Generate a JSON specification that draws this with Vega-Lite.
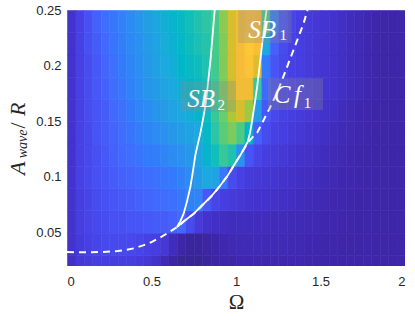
{
  "$schema": "https://vega.github.io/schema/vega-lite/v6.json",
  "width": 338,
  "height": 256,
  "autosize": {"type": "none"},
  "padding": {"left": 67, "top": 10, "right": 10, "bottom": 55},
  "background": "white",
  "config": {"view": {"stroke": null}},
  "datasets": {
    "grid": [
      {"x":0,"y":0.01,"v":0.04},{"x":0.05,"y":0.01,"v":0.07},{"x":0.1,"y":0.01,"v":0.08},{"x":0.15,"y":0.01,"v":0.09},{"x":0.2,"y":0.01,"v":0.09},{"x":0.25,"y":0.01,"v":0.09},{"x":0.3,"y":0.01,"v":0.09},{"x":0.35,"y":0.01,"v":0.09},{"x":0.4,"y":0.01,"v":0.08},{"x":0.45,"y":0.01,"v":0.07},
      {"x":0.5,"y":0.01,"v":0.05},{"x":0.55,"y":0.01,"v":0.02},{"x":0.6,"y":0.01,"v":-0.01},{"x":0.65,"y":0.01,"v":-0.03},{"x":0.7,"y":0.01,"v":-0.03},{"x":0.75,"y":0.01,"v":-0.03},{"x":0.8,"y":0.01,"v":-0.02},{"x":0.85,"y":0.01,"v":-0.01},{"x":0.9,"y":0.01,"v":0},{"x":0.95,"y":0.01,"v":0},
      {"x":1,"y":0.01,"v":0.01},{"x":1.05,"y":0.01,"v":0.01},{"x":1.1,"y":0.01,"v":0.01},{"x":1.15,"y":0.01,"v":0.01},{"x":1.2,"y":0.01,"v":0.01},{"x":1.25,"y":0.01,"v":0.01},{"x":1.3,"y":0.01,"v":0.01},{"x":1.35,"y":0.01,"v":0.01},{"x":1.4,"y":0.01,"v":0.005},{"x":1.45,"y":0.01,"v":0.005},
      {"x":1.5,"y":0.01,"v":0},{"x":1.55,"y":0.01,"v":0},{"x":1.6,"y":0.01,"v":0},{"x":1.65,"y":0.01,"v":0},{"x":1.7,"y":0.01,"v":0},{"x":1.75,"y":0.01,"v":0},{"x":1.8,"y":0.01,"v":0},{"x":1.85,"y":0.01,"v":0},{"x":1.9,"y":0.01,"v":0},{"x":1.95,"y":0.01,"v":0},

      {"x":0,"y":0.03,"v":0.05},{"x":0.05,"y":0.03,"v":0.08},{"x":0.1,"y":0.03,"v":0.1},{"x":0.15,"y":0.03,"v":0.11},{"x":0.2,"y":0.03,"v":0.12},{"x":0.25,"y":0.03,"v":0.12},{"x":0.3,"y":0.03,"v":0.12},{"x":0.35,"y":0.03,"v":0.12},{"x":0.4,"y":0.03,"v":0.11},{"x":0.45,"y":0.03,"v":0.1},
      {"x":0.5,"y":0.03,"v":0.09},{"x":0.55,"y":0.03,"v":0.07},{"x":0.6,"y":0.03,"v":0.03},{"x":0.65,"y":0.03,"v":0},{"x":0.7,"y":0.03,"v":-0.02},{"x":0.75,"y":0.03,"v":-0.02},{"x":0.8,"y":0.03,"v":-0.01},{"x":0.85,"y":0.03,"v":0},{"x":0.9,"y":0.03,"v":0.01},{"x":0.95,"y":0.03,"v":0.015},
      {"x":1,"y":0.03,"v":0.02},{"x":1.05,"y":0.03,"v":0.02},{"x":1.1,"y":0.03,"v":0.02},{"x":1.15,"y":0.03,"v":0.02},{"x":1.2,"y":0.03,"v":0.02},{"x":1.25,"y":0.03,"v":0.02},{"x":1.3,"y":0.03,"v":0.015},{"x":1.35,"y":0.03,"v":0.015},{"x":1.4,"y":0.03,"v":0.01},{"x":1.45,"y":0.03,"v":0.01},
      {"x":1.5,"y":0.03,"v":0.005},{"x":1.55,"y":0.03,"v":0.005},{"x":1.6,"y":0.03,"v":0},{"x":1.65,"y":0.03,"v":0},{"x":1.7,"y":0.03,"v":0},{"x":1.75,"y":0.03,"v":0},{"x":1.8,"y":0.03,"v":0},{"x":1.85,"y":0.03,"v":0},{"x":1.9,"y":0.03,"v":0},{"x":1.95,"y":0.03,"v":0},

      {"x":0,"y":0.05,"v":0.05},{"x":0.05,"y":0.05,"v":0.09},{"x":0.1,"y":0.05,"v":0.11},{"x":0.15,"y":0.05,"v":0.12},{"x":0.2,"y":0.05,"v":0.13},{"x":0.25,"y":0.05,"v":0.14},{"x":0.3,"y":0.05,"v":0.14},{"x":0.35,"y":0.05,"v":0.15},{"x":0.4,"y":0.05,"v":0.15},{"x":0.45,"y":0.05,"v":0.16},
      {"x":0.5,"y":0.05,"v":0.17},{"x":0.55,"y":0.05,"v":0.17},{"x":0.6,"y":0.05,"v":0.18},{"x":0.65,"y":0.05,"v":0.2},{"x":0.7,"y":0.05,"v":0.13},{"x":0.75,"y":0.05,"v":0.08},{"x":0.8,"y":0.05,"v":0.05},{"x":0.85,"y":0.05,"v":0.04},{"x":0.9,"y":0.05,"v":0.035},{"x":0.95,"y":0.05,"v":0.03},
      {"x":1,"y":0.05,"v":0.03},{"x":1.05,"y":0.05,"v":0.03},{"x":1.1,"y":0.05,"v":0.03},{"x":1.15,"y":0.05,"v":0.03},{"x":1.2,"y":0.05,"v":0.025},{"x":1.25,"y":0.05,"v":0.025},{"x":1.3,"y":0.05,"v":0.02},{"x":1.35,"y":0.05,"v":0.02},{"x":1.4,"y":0.05,"v":0.015},{"x":1.45,"y":0.05,"v":0.015},
      {"x":1.5,"y":0.05,"v":0.01},{"x":1.55,"y":0.05,"v":0.01},{"x":1.6,"y":0.05,"v":0.005},{"x":1.65,"y":0.05,"v":0.005},{"x":1.7,"y":0.05,"v":0},{"x":1.75,"y":0.05,"v":0},{"x":1.8,"y":0.05,"v":0},{"x":1.85,"y":0.05,"v":0},{"x":1.9,"y":0.05,"v":0},{"x":1.95,"y":0.05,"v":0},

      {"x":0,"y":0.07,"v":0.05},{"x":0.05,"y":0.07,"v":0.09},{"x":0.1,"y":0.07,"v":0.11},{"x":0.15,"y":0.07,"v":0.13},{"x":0.2,"y":0.07,"v":0.14},{"x":0.25,"y":0.07,"v":0.15},{"x":0.3,"y":0.07,"v":0.16},{"x":0.35,"y":0.07,"v":0.17},{"x":0.4,"y":0.07,"v":0.18},{"x":0.45,"y":0.07,"v":0.19},
      {"x":0.5,"y":0.07,"v":0.2},{"x":0.55,"y":0.07,"v":0.21},{"x":0.6,"y":0.07,"v":0.22},{"x":0.65,"y":0.07,"v":0.24},{"x":0.7,"y":0.07,"v":0.27},{"x":0.75,"y":0.07,"v":0.28},{"x":0.8,"y":0.07,"v":0.16},{"x":0.85,"y":0.07,"v":0.11},{"x":0.9,"y":0.07,"v":0.09},{"x":0.95,"y":0.07,"v":0.08},
      {"x":1,"y":0.07,"v":0.07},{"x":1.05,"y":0.07,"v":0.06},{"x":1.1,"y":0.07,"v":0.05},{"x":1.15,"y":0.07,"v":0.05},{"x":1.2,"y":0.07,"v":0.045},{"x":1.25,"y":0.07,"v":0.04},{"x":1.3,"y":0.07,"v":0.035},{"x":1.35,"y":0.07,"v":0.03},{"x":1.4,"y":0.07,"v":0.025},{"x":1.45,"y":0.07,"v":0.02},
      {"x":1.5,"y":0.07,"v":0.015},{"x":1.55,"y":0.07,"v":0.01},{"x":1.6,"y":0.07,"v":0.01},{"x":1.65,"y":0.07,"v":0.005},{"x":1.7,"y":0.07,"v":0},{"x":1.75,"y":0.07,"v":0},{"x":1.8,"y":0.07,"v":0},{"x":1.85,"y":0.07,"v":0},{"x":1.9,"y":0.07,"v":0},{"x":1.95,"y":0.07,"v":0},

      {"x":0,"y":0.09,"v":0.05},{"x":0.05,"y":0.09,"v":0.1},{"x":0.1,"y":0.09,"v":0.12},{"x":0.15,"y":0.09,"v":0.14},{"x":0.2,"y":0.09,"v":0.15},{"x":0.25,"y":0.09,"v":0.17},{"x":0.3,"y":0.09,"v":0.18},{"x":0.35,"y":0.09,"v":0.19},{"x":0.4,"y":0.09,"v":0.2},{"x":0.45,"y":0.09,"v":0.21},
      {"x":0.5,"y":0.09,"v":0.22},{"x":0.55,"y":0.09,"v":0.24},{"x":0.6,"y":0.09,"v":0.25},{"x":0.65,"y":0.09,"v":0.27},{"x":0.7,"y":0.09,"v":0.3},{"x":0.75,"y":0.09,"v":0.35},{"x":0.8,"y":0.09,"v":0.4},{"x":0.85,"y":0.09,"v":0.38},{"x":0.9,"y":0.09,"v":0.24},{"x":0.95,"y":0.09,"v":0.13},
      {"x":1,"y":0.09,"v":0.1},{"x":1.05,"y":0.09,"v":0.08},{"x":1.1,"y":0.09,"v":0.07},{"x":1.15,"y":0.09,"v":0.065},{"x":1.2,"y":0.09,"v":0.06},{"x":1.25,"y":0.09,"v":0.05},{"x":1.3,"y":0.09,"v":0.045},{"x":1.35,"y":0.09,"v":0.04},{"x":1.4,"y":0.09,"v":0.035},{"x":1.45,"y":0.09,"v":0.03},
      {"x":1.5,"y":0.09,"v":0.02},{"x":1.55,"y":0.09,"v":0.015},{"x":1.6,"y":0.09,"v":0.01},{"x":1.65,"y":0.09,"v":0.01},{"x":1.7,"y":0.09,"v":0.005},{"x":1.75,"y":0.09,"v":0},{"x":1.8,"y":0.09,"v":0},{"x":1.85,"y":0.09,"v":0},{"x":1.9,"y":0.09,"v":0},{"x":1.95,"y":0.09,"v":0},

      {"x":0,"y":0.11,"v":0.05},{"x":0.05,"y":0.11,"v":0.1},{"x":0.1,"y":0.11,"v":0.12},{"x":0.15,"y":0.11,"v":0.14},{"x":0.2,"y":0.11,"v":0.16},{"x":0.25,"y":0.11,"v":0.18},{"x":0.3,"y":0.11,"v":0.2},{"x":0.35,"y":0.11,"v":0.21},{"x":0.4,"y":0.11,"v":0.23},{"x":0.45,"y":0.11,"v":0.25},
      {"x":0.5,"y":0.11,"v":0.26},{"x":0.55,"y":0.11,"v":0.28},{"x":0.6,"y":0.11,"v":0.3},{"x":0.65,"y":0.11,"v":0.32},{"x":0.7,"y":0.11,"v":0.34},{"x":0.75,"y":0.11,"v":0.38},{"x":0.8,"y":0.11,"v":0.44},{"x":0.85,"y":0.11,"v":0.5},{"x":0.9,"y":0.11,"v":0.56},{"x":0.95,"y":0.11,"v":0.52},
      {"x":1,"y":0.11,"v":0.32},{"x":1.05,"y":0.11,"v":0.15},{"x":1.1,"y":0.11,"v":0.11},{"x":1.15,"y":0.11,"v":0.09},{"x":1.2,"y":0.11,"v":0.08},{"x":1.25,"y":0.11,"v":0.07},{"x":1.3,"y":0.11,"v":0.06},{"x":1.35,"y":0.11,"v":0.05},{"x":1.4,"y":0.11,"v":0.045},{"x":1.45,"y":0.11,"v":0.04},
      {"x":1.5,"y":0.11,"v":0.03},{"x":1.55,"y":0.11,"v":0.02},{"x":1.6,"y":0.11,"v":0.015},{"x":1.65,"y":0.11,"v":0.01},{"x":1.7,"y":0.11,"v":0.005},{"x":1.75,"y":0.11,"v":0},{"x":1.8,"y":0.11,"v":0},{"x":1.85,"y":0.11,"v":0},{"x":1.9,"y":0.11,"v":0},{"x":1.95,"y":0.11,"v":0},

      {"x":0,"y":0.13,"v":0.05},{"x":0.05,"y":0.13,"v":0.1},{"x":0.1,"y":0.13,"v":0.12},{"x":0.15,"y":0.13,"v":0.15},{"x":0.2,"y":0.13,"v":0.17},{"x":0.25,"y":0.13,"v":0.19},{"x":0.3,"y":0.13,"v":0.21},{"x":0.35,"y":0.13,"v":0.23},{"x":0.4,"y":0.13,"v":0.26},{"x":0.45,"y":0.13,"v":0.28},
      {"x":0.5,"y":0.13,"v":0.3},{"x":0.55,"y":0.13,"v":0.32},{"x":0.6,"y":0.13,"v":0.34},{"x":0.65,"y":0.13,"v":0.36},{"x":0.7,"y":0.13,"v":0.38},{"x":0.75,"y":0.13,"v":0.4},{"x":0.8,"y":0.13,"v":0.46},{"x":0.85,"y":0.13,"v":0.54},{"x":0.9,"y":0.13,"v":0.62},{"x":0.95,"y":0.13,"v":0.66},
      {"x":1,"y":0.13,"v":0.6},{"x":1.05,"y":0.13,"v":0.45},{"x":1.1,"y":0.13,"v":0.18},{"x":1.15,"y":0.13,"v":0.13},{"x":1.2,"y":0.13,"v":0.1},{"x":1.25,"y":0.13,"v":0.09},{"x":1.3,"y":0.13,"v":0.08},{"x":1.35,"y":0.13,"v":0.07},{"x":1.4,"y":0.13,"v":0.06},{"x":1.45,"y":0.13,"v":0.05},
      {"x":1.5,"y":0.13,"v":0.04},{"x":1.55,"y":0.13,"v":0.03},{"x":1.6,"y":0.13,"v":0.02},{"x":1.65,"y":0.13,"v":0.015},{"x":1.7,"y":0.13,"v":0.01},{"x":1.75,"y":0.13,"v":0.005},{"x":1.8,"y":0.13,"v":0},{"x":1.85,"y":0.13,"v":0},{"x":1.9,"y":0.13,"v":0},{"x":1.95,"y":0.13,"v":0},

      {"x":0,"y":0.15,"v":0.05},{"x":0.05,"y":0.15,"v":0.1},{"x":0.1,"y":0.15,"v":0.13},{"x":0.15,"y":0.15,"v":0.15},{"x":0.2,"y":0.15,"v":0.17},{"x":0.25,"y":0.15,"v":0.2},{"x":0.3,"y":0.15,"v":0.22},{"x":0.35,"y":0.15,"v":0.25},{"x":0.4,"y":0.15,"v":0.28},{"x":0.45,"y":0.15,"v":0.3},
      {"x":0.5,"y":0.15,"v":0.33},{"x":0.55,"y":0.15,"v":0.35},{"x":0.6,"y":0.15,"v":0.38},{"x":0.65,"y":0.15,"v":0.4},{"x":0.7,"y":0.15,"v":0.42},{"x":0.75,"y":0.15,"v":0.44},{"x":0.8,"y":0.15,"v":0.48},{"x":0.85,"y":0.15,"v":0.56},{"x":0.9,"y":0.15,"v":0.64},{"x":0.95,"y":0.15,"v":0.72},
      {"x":1,"y":0.15,"v":0.77},{"x":1.05,"y":0.15,"v":0.7},{"x":1.1,"y":0.15,"v":0.35},{"x":1.15,"y":0.15,"v":0.16},{"x":1.2,"y":0.15,"v":0.12},{"x":1.25,"y":0.15,"v":0.1},{"x":1.3,"y":0.15,"v":0.09},{"x":1.35,"y":0.15,"v":0.08},{"x":1.4,"y":0.15,"v":0.07},{"x":1.45,"y":0.15,"v":0.06},
      {"x":1.5,"y":0.15,"v":0.05},{"x":1.55,"y":0.15,"v":0.04},{"x":1.6,"y":0.15,"v":0.03},{"x":1.65,"y":0.15,"v":0.02},{"x":1.7,"y":0.15,"v":0.01},{"x":1.75,"y":0.15,"v":0.005},{"x":1.8,"y":0.15,"v":0},{"x":1.85,"y":0.15,"v":0},{"x":1.9,"y":0.15,"v":0},{"x":1.95,"y":0.15,"v":0},

      {"x":0,"y":0.17,"v":0.05},{"x":0.05,"y":0.17,"v":0.1},{"x":0.1,"y":0.17,"v":0.13},{"x":0.15,"y":0.17,"v":0.16},{"x":0.2,"y":0.17,"v":0.18},{"x":0.25,"y":0.17,"v":0.21},{"x":0.3,"y":0.17,"v":0.24},{"x":0.35,"y":0.17,"v":0.27},{"x":0.4,"y":0.17,"v":0.3},{"x":0.45,"y":0.17,"v":0.33},
      {"x":0.5,"y":0.17,"v":0.35},{"x":0.55,"y":0.17,"v":0.38},{"x":0.6,"y":0.17,"v":0.4},{"x":0.65,"y":0.17,"v":0.43},{"x":0.7,"y":0.17,"v":0.45},{"x":0.75,"y":0.17,"v":0.47},{"x":0.8,"y":0.17,"v":0.5},{"x":0.85,"y":0.17,"v":0.57},{"x":0.9,"y":0.17,"v":0.66},{"x":0.95,"y":0.17,"v":0.76},
      {"x":1,"y":0.17,"v":0.82},{"x":1.05,"y":0.17,"v":0.82},{"x":1.1,"y":0.17,"v":0.55},{"x":1.15,"y":0.17,"v":0.2},{"x":1.2,"y":0.17,"v":0.14},{"x":1.25,"y":0.17,"v":0.11},{"x":1.3,"y":0.17,"v":0.1},{"x":1.35,"y":0.17,"v":0.09},{"x":1.4,"y":0.17,"v":0.08},{"x":1.45,"y":0.17,"v":0.07},
      {"x":1.5,"y":0.17,"v":0.06},{"x":1.55,"y":0.17,"v":0.05},{"x":1.6,"y":0.17,"v":0.04},{"x":1.65,"y":0.17,"v":0.03},{"x":1.7,"y":0.17,"v":0.02},{"x":1.75,"y":0.17,"v":0.01},{"x":1.8,"y":0.17,"v":0.005},{"x":1.85,"y":0.17,"v":0},{"x":1.9,"y":0.17,"v":0},{"x":1.95,"y":0.17,"v":0},

      {"x":0,"y":0.19,"v":0.05},{"x":0.05,"y":0.19,"v":0.1},{"x":0.1,"y":0.19,"v":0.13},{"x":0.15,"y":0.19,"v":0.16},{"x":0.2,"y":0.19,"v":0.19},{"x":0.25,"y":0.19,"v":0.22},{"x":0.3,"y":0.19,"v":0.25},{"x":0.35,"y":0.19,"v":0.28},{"x":0.4,"y":0.19,"v":0.31},{"x":0.45,"y":0.19,"v":0.34},
      {"x":0.5,"y":0.19,"v":0.37},{"x":0.55,"y":0.19,"v":0.4},{"x":0.6,"y":0.19,"v":0.42},{"x":0.65,"y":0.19,"v":0.45},{"x":0.7,"y":0.19,"v":0.47},{"x":0.75,"y":0.19,"v":0.49},{"x":0.8,"y":0.19,"v":0.52},{"x":0.85,"y":0.19,"v":0.58},{"x":0.9,"y":0.19,"v":0.67},{"x":0.95,"y":0.19,"v":0.77},
      {"x":1,"y":0.19,"v":0.83},{"x":1.05,"y":0.19,"v":0.86},{"x":1.1,"y":0.19,"v":0.78},{"x":1.15,"y":0.19,"v":0.25},{"x":1.2,"y":0.19,"v":0.15},{"x":1.25,"y":0.19,"v":0.12},{"x":1.3,"y":0.19,"v":0.1},{"x":1.35,"y":0.19,"v":0.09},{"x":1.4,"y":0.19,"v":0.08},{"x":1.45,"y":0.19,"v":0.07},
      {"x":1.5,"y":0.19,"v":0.06},{"x":1.55,"y":0.19,"v":0.05},{"x":1.6,"y":0.19,"v":0.04},{"x":1.65,"y":0.19,"v":0.03},{"x":1.7,"y":0.19,"v":0.02},{"x":1.75,"y":0.19,"v":0.01},{"x":1.8,"y":0.19,"v":0.005},{"x":1.85,"y":0.19,"v":0},{"x":1.9,"y":0.19,"v":0},{"x":1.95,"y":0.19,"v":0},

      {"x":0,"y":0.21,"v":0.05},{"x":0.05,"y":0.21,"v":0.1},{"x":0.1,"y":0.21,"v":0.14},{"x":0.15,"y":0.21,"v":0.17},{"x":0.2,"y":0.21,"v":0.2},{"x":0.25,"y":0.21,"v":0.23},{"x":0.3,"y":0.21,"v":0.26},{"x":0.35,"y":0.21,"v":0.29},{"x":0.4,"y":0.21,"v":0.32},{"x":0.45,"y":0.21,"v":0.35},
      {"x":0.5,"y":0.21,"v":0.38},{"x":0.55,"y":0.21,"v":0.41},{"x":0.6,"y":0.21,"v":0.43},{"x":0.65,"y":0.21,"v":0.46},{"x":0.7,"y":0.21,"v":0.49},{"x":0.75,"y":0.21,"v":0.51},{"x":0.8,"y":0.21,"v":0.53},{"x":0.85,"y":0.21,"v":0.59},{"x":0.9,"y":0.21,"v":0.67},{"x":0.95,"y":0.21,"v":0.77},
      {"x":1,"y":0.21,"v":0.83},{"x":1.05,"y":0.21,"v":0.87},{"x":1.1,"y":0.21,"v":0.84},{"x":1.15,"y":0.21,"v":0.4},{"x":1.2,"y":0.21,"v":0.18},{"x":1.25,"y":0.21,"v":0.13},{"x":1.3,"y":0.21,"v":0.1},{"x":1.35,"y":0.21,"v":0.09},{"x":1.4,"y":0.21,"v":0.08},{"x":1.45,"y":0.21,"v":0.07},
      {"x":1.5,"y":0.21,"v":0.06},{"x":1.55,"y":0.21,"v":0.05},{"x":1.6,"y":0.21,"v":0.04},{"x":1.65,"y":0.21,"v":0.03},{"x":1.7,"y":0.21,"v":0.02},{"x":1.75,"y":0.21,"v":0.01},{"x":1.8,"y":0.21,"v":0.005},{"x":1.85,"y":0.21,"v":0},{"x":1.9,"y":0.21,"v":0},{"x":1.95,"y":0.21,"v":0},

      {"x":0,"y":0.23,"v":0.05},{"x":0.05,"y":0.23,"v":0.1},{"x":0.1,"y":0.23,"v":0.14},{"x":0.15,"y":0.23,"v":0.18},{"x":0.2,"y":0.23,"v":0.21},{"x":0.25,"y":0.23,"v":0.24},{"x":0.3,"y":0.23,"v":0.27},{"x":0.35,"y":0.23,"v":0.3},{"x":0.4,"y":0.23,"v":0.33},{"x":0.45,"y":0.23,"v":0.36},
      {"x":0.5,"y":0.23,"v":0.39},{"x":0.55,"y":0.23,"v":0.42},{"x":0.6,"y":0.23,"v":0.44},{"x":0.65,"y":0.23,"v":0.47},{"x":0.7,"y":0.23,"v":0.5},{"x":0.75,"y":0.23,"v":0.52},{"x":0.8,"y":0.23,"v":0.54},{"x":0.85,"y":0.23,"v":0.59},{"x":0.9,"y":0.23,"v":0.68},{"x":0.95,"y":0.23,"v":0.77},
      {"x":1,"y":0.23,"v":0.82},{"x":1.05,"y":0.23,"v":0.85},{"x":1.1,"y":0.23,"v":0.84},{"x":1.15,"y":0.23,"v":0.6},{"x":1.2,"y":0.23,"v":0.25},{"x":1.25,"y":0.23,"v":0.15},{"x":1.3,"y":0.23,"v":0.11},{"x":1.35,"y":0.23,"v":0.09},{"x":1.4,"y":0.23,"v":0.08},{"x":1.45,"y":0.23,"v":0.07},
      {"x":1.5,"y":0.23,"v":0.06},{"x":1.55,"y":0.23,"v":0.05},{"x":1.6,"y":0.23,"v":0.04},{"x":1.65,"y":0.23,"v":0.03},{"x":1.7,"y":0.23,"v":0.02},{"x":1.75,"y":0.23,"v":0.01},{"x":1.8,"y":0.23,"v":0.005},{"x":1.85,"y":0.23,"v":0},{"x":1.9,"y":0.23,"v":0},{"x":1.95,"y":0.23,"v":0}
    ],
    "curves": [
      {"c":"SB2","x":0.651,"y":0.055},{"c":"SB2","x":0.67,"y":0.06},{"c":"SB2","x":0.69,"y":0.067},{"c":"SB2","x":0.71,"y":0.078},{"c":"SB2","x":0.73,"y":0.091},{"c":"SB2","x":0.745,"y":0.105},{"c":"SB2","x":0.76,"y":0.12},{"c":"SB2","x":0.775,"y":0.13},{"c":"SB2","x":0.79,"y":0.14},{"c":"SB2","x":0.805,"y":0.152},{"c":"SB2","x":0.82,"y":0.165},{"c":"SB2","x":0.835,"y":0.185},{"c":"SB2","x":0.849,"y":0.205},{"c":"SB2","x":0.862,"y":0.228},{"c":"SB2","x":0.874,"y":0.25},
      {"c":"SB1","x":0.651,"y":0.055},{"c":"SB1","x":0.69,"y":0.06},{"c":"SB1","x":0.75,"y":0.067},{"c":"SB1","x":0.79,"y":0.073},{"c":"SB1","x":0.85,"y":0.082},{"c":"SB1","x":0.89,"y":0.089},{"c":"SB1","x":0.95,"y":0.101},{"c":"SB1","x":0.99,"y":0.111},{"c":"SB1","x":1.027,"y":0.12},{"c":"SB1","x":1.05,"y":0.126},{"c":"SB1","x":1.07,"y":0.132},{"c":"SB1","x":1.082,"y":0.139},{"c":"SB1","x":1.096,"y":0.151},{"c":"SB1","x":1.11,"y":0.165},{"c":"SB1","x":1.126,"y":0.182},{"c":"SB1","x":1.14,"y":0.2},{"c":"SB1","x":1.155,"y":0.22},{"c":"SB1","x":1.168,"y":0.236},{"c":"SB1","x":1.181,"y":0.25},
      {"c":"Cf1","x":0,"y":0.0325},{"c":"Cf1","x":0.1,"y":0.0323},{"c":"Cf1","x":0.2,"y":0.0325},{"c":"Cf1","x":0.3,"y":0.0335},{"c":"Cf1","x":0.35,"y":0.0345},{"c":"Cf1","x":0.4,"y":0.036},{"c":"Cf1","x":0.45,"y":0.0385},{"c":"Cf1","x":0.5,"y":0.0415},{"c":"Cf1","x":0.55,"y":0.0455},{"c":"Cf1","x":0.6,"y":0.05},{"c":"Cf1","x":0.651,"y":0.055},{"c":"Cf1","x":0.69,"y":0.06},{"c":"Cf1","x":0.75,"y":0.067},{"c":"Cf1","x":0.79,"y":0.073},{"c":"Cf1","x":0.85,"y":0.082},{"c":"Cf1","x":0.89,"y":0.089},{"c":"Cf1","x":0.95,"y":0.101},{"c":"Cf1","x":0.99,"y":0.111},{"c":"Cf1","x":1.027,"y":0.12},{"c":"Cf1","x":1.07,"y":0.131},{"c":"Cf1","x":1.1,"y":0.136},{"c":"Cf1","x":1.126,"y":0.14},{"c":"Cf1","x":1.16,"y":0.15},{"c":"Cf1","x":1.2,"y":0.162},{"c":"Cf1","x":1.25,"y":0.178},{"c":"Cf1","x":1.3,"y":0.198},{"c":"Cf1","x":1.35,"y":0.218},{"c":"Cf1","x":1.4,"y":0.238},{"c":"Cf1","x":1.423,"y":0.25}
    ],
    "boxes": [
      {"x":1.013,"x2":1.329,"y":0.2203,"y2":0.25},
      {"x":0.672,"x2":0.999,"y":0.1586,"y2":0.1862},
      {"x":1.189,"x2":1.515,"y":0.1602,"y2":0.1886}
    ],
    "mainText": [
      {"t":"SB","x":1.072,"y":0.2248},
      {"t":"SB","x":0.712,"y":0.1631},
      {"t":"C","x":1.224,"y":0.1662},{"t":"f","x":1.343,"y":0.1662}
    ],
    "subText": [
      {"t":"1","x":1.258,"y":0.223},{"t":"2","x":0.89,"y":0.16},{"t":"1","x":1.401,"y":0.1622}
    ],
    "yTitleItalic": [
      {"t":"A","x":-0.249,"y":0.1018},{"t":"R","x":-0.249,"y":0.1548}
    ],
    "yTitleSlash": [
      {"t":"/","x":-0.249,"y":0.1435}
    ],
    "yTitleSub": [
      {"t":"wave","x":-0.2374,"y":0.1167}
    ],
    "frame": [{"a":1}]
  },
  "encoding": {
    "x": {"field": "x", "type": "quantitative",
          "scale": {"domain": [0, 2], "nice": false, "zero": false},
          "axis": {"title": "Ω", "values": [0, 0.5, 1, 1.5, 2], "format": "~g", "grid": false, "domain": false, "ticks": false,
                   "labelFont": "Liberation Sans", "labelFontSize": 13, "labelColor": "#262626", "labelPadding": 9,
                   "titleFont": "Liberation Serif", "titleFontSize": 21, "titleFontWeight": "normal", "titleColor": "#262626", "titlePadding": 3}},
    "y": {"field": "y", "type": "quantitative",
          "scale": {"domain": [0.02, 0.25], "nice": false, "zero": false},
          "axis": {"title": null, "values": [0.05, 0.1, 0.15, 0.2, 0.25], "format": "~g", "grid": false, "domain": false, "ticks": false,
                   "labelFont": "Liberation Sans", "labelFontSize": 13, "labelColor": "#262626", "labelPadding": 6}}
  },
  "layer": [
    {
      "data": {"name": "grid"},
      "mark": {"type": "rect", "clip": true, "strokeWidth": 0.6},
      "encoding": {
        "x": {"field": "x", "type": "quantitative", "bin": {"binned": true, "step": 0.05},
              "scale": {"domain": [0, 2], "nice": false, "zero": false},
              "axis": {"title": "Ω", "values": [0, 0.5, 1, 1.5, 2], "format": "~g", "grid": false, "domain": false, "ticks": false,
                       "labelFont": "Liberation Sans", "labelFontSize": 13, "labelColor": "#262626", "labelPadding": 9,
                       "titleFont": "Liberation Serif", "titleFontSize": 21, "titleFontWeight": "normal", "titleColor": "#262626", "titlePadding": 3}},
        "y": {"field": "y", "type": "quantitative", "bin": {"binned": true, "step": 0.02},
              "scale": {"domain": [0.02, 0.25], "nice": false, "zero": false},
              "axis": {"title": null, "values": [0.05, 0.1, 0.15, 0.2, 0.25], "format": "~g", "grid": false, "domain": false, "ticks": false,
                       "labelFont": "Liberation Sans", "labelFontSize": 13, "labelColor": "#262626", "labelPadding": 6}},
        "fill": {"field": "v", "type": "quantitative", "legend": null,
                 "scale": {"type": "linear", "interpolate": "rgb", "clamp": true,
                           "domain": [-0.04, 0, 0.05, 0.1, 0.15, 0.2, 0.25, 0.3, 0.35, 0.4, 0.45, 0.5, 0.55, 0.6, 0.65, 0.7, 0.75, 0.8, 0.85, 0.9, 0.95, 1],
                           "range": ["#36268f", "#3e26a8", "#4332cb", "#4741e5", "#4754f6", "#4269fe", "#337bfb", "#2d8cf3", "#259be7", "#1ca9df", "#02b6c8", "#12beb9", "#34c79d", "#4acb84", "#72cc64", "#9dc943", "#c8c128", "#ebba32", "#febe3a", "#fad62d", "#f5e326", "#f9fb15"]}},
        "stroke": {"field": "v", "type": "quantitative", "legend": null,
                 "scale": {"type": "linear", "interpolate": "rgb", "clamp": true,
                           "domain": [-0.04, 0, 0.05, 0.1, 0.15, 0.2, 0.25, 0.3, 0.35, 0.4, 0.45, 0.5, 0.55, 0.6, 0.65, 0.7, 0.75, 0.8, 0.85, 0.9, 0.95, 1],
                           "range": ["#36268f", "#3e26a8", "#4332cb", "#4741e5", "#4754f6", "#4269fe", "#337bfb", "#2d8cf3", "#259be7", "#1ca9df", "#02b6c8", "#12beb9", "#34c79d", "#4acb84", "#72cc64", "#9dc943", "#c8c128", "#ebba32", "#febe3a", "#fad62d", "#f5e326", "#f9fb15"]}}
      }
    },
    {
      "data": {"name": "curves"},
      "transform": [{"filter": "datum.c === 'Cf1'"}],
      "mark": {"type": "line", "clip": true, "color": "white", "strokeWidth": 2, "strokeDash": [7, 5]}
    },
    {
      "data": {"name": "curves"},
      "transform": [{"filter": "datum.c !== 'Cf1'"}],
      "mark": {"type": "line", "clip": true, "color": "white", "strokeWidth": 1.8},
      "encoding": {"detail": {"field": "c"}}
    },
    {
      "data": {"name": "boxes"},
      "mark": {"type": "rect", "color": "#8a8a8a", "opacity": 0.3},
      "encoding": {"x2": {"field": "x2"}, "y2": {"field": "y2"}}
    },
    {
      "data": {"name": "mainText"},
      "mark": {"type": "text", "align": "left", "baseline": "alphabetic", "font": "Liberation Serif", "fontStyle": "italic", "fontSize": 25, "color": "white"},
      "encoding": {"text": {"field": "t"}}
    },
    {
      "data": {"name": "subText"},
      "mark": {"type": "text", "align": "left", "baseline": "alphabetic", "font": "Liberation Serif", "fontSize": 15, "color": "white"},
      "encoding": {"text": {"field": "t"}}
    },
    {
      "data": {"name": "yTitleItalic"},
      "mark": {"type": "text", "align": "left", "baseline": "alphabetic", "angle": 270, "font": "Liberation Serif", "fontStyle": "italic", "fontSize": 22, "color": "#262626"},
      "encoding": {"text": {"field": "t"}}
    },
    {
      "data": {"name": "yTitleSlash"},
      "mark": {"type": "text", "align": "left", "baseline": "alphabetic", "angle": 270, "font": "Liberation Serif", "fontSize": 22, "color": "#262626"},
      "encoding": {"text": {"field": "t"}}
    },
    {
      "data": {"name": "yTitleSub"},
      "mark": {"type": "text", "align": "left", "baseline": "alphabetic", "angle": 270, "font": "Liberation Serif", "fontStyle": "italic", "fontSize": 14, "color": "#262626"},
      "encoding": {"text": {"field": "t"}}
    },
    {
      "data": {"name": "frame"},
      "mark": {"type": "rect", "fill": null, "fillOpacity": 0, "stroke": "#8c8c8c", "strokeWidth": 1},
      "encoding": {
        "x": {"datum": 0, "type": "quantitative"},
        "x2": {"datum": 2},
        "y": {"datum": 0.02, "type": "quantitative"},
        "y2": {"datum": 0.25}
      }
    }
  ]
}
